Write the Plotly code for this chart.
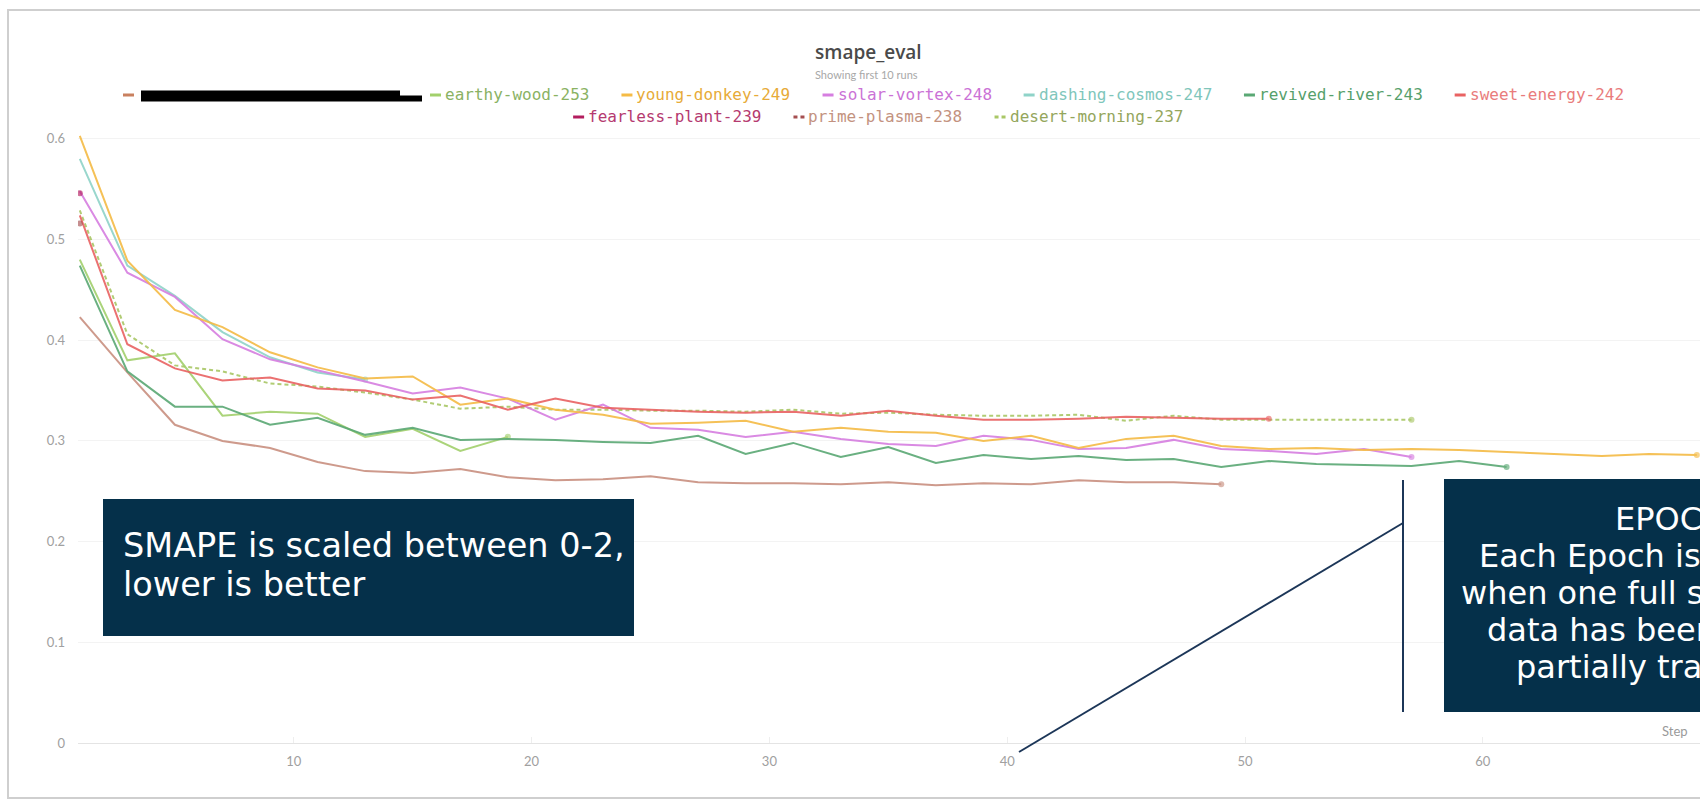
import plotly.graph_objects as go

# ---------------- data ----------------
run_names = ["(redacted)", "earthy-wood-253", "young-donkey-249", "solar-vortex-248",
             "dashing-cosmos-247", "revived-river-243", "sweet-energy-242",
             "fearless-plant-239", "prime-plasma-238", "desert-morning-237"]

steps_redacted = list(range(1, 50, 2))
vals_redacted = [0.423, 0.368, 0.316, 0.300, 0.293, 0.279, 0.270, 0.268, 0.272, 0.264,
                 0.261, 0.262, 0.265, 0.259, 0.258, 0.258, 0.257, 0.259, 0.256, 0.258,
                 0.257, 0.261, 0.259, 0.259, 0.257]

steps_earthy = list(range(1, 20, 2))
vals_earthy = [0.480, 0.380, 0.387, 0.325, 0.329, 0.327, 0.304, 0.312, 0.290, 0.304]

steps_young = list(range(1, 70, 2))
vals_young = [0.603, 0.479, 0.430, 0.413, 0.388, 0.373, 0.362, 0.364, 0.336, 0.342,
              0.331, 0.326, 0.317, 0.318, 0.320, 0.309, 0.313, 0.309, 0.308, 0.300,
              0.305, 0.293, 0.302, 0.305, 0.295, 0.292, 0.293, 0.291, 0.292, 0.291,
              0.289, 0.287, 0.285, 0.287, 0.286]

steps_solar = list(range(1, 58, 2))
vals_solar = [0.548, 0.467, 0.443, 0.401, 0.381, 0.370, 0.359, 0.347, 0.353, 0.342,
              0.321, 0.336, 0.313, 0.311, 0.304, 0.309, 0.302, 0.297, 0.295, 0.305,
              0.301, 0.292, 0.293, 0.301, 0.292, 0.290, 0.287, 0.292, 0.284]

steps_dashing = list(range(1, 14, 2))
vals_dashing = [0.580, 0.474, 0.444, 0.408, 0.383, 0.368, 0.361]

steps_revived = list(range(1, 62, 2))
vals_revived = [0.474, 0.369, 0.334, 0.334, 0.316, 0.323, 0.306, 0.313, 0.301, 0.302,
                0.301, 0.299, 0.298, 0.305, 0.287, 0.298, 0.284, 0.294, 0.278, 0.286,
                0.282, 0.285, 0.281, 0.282, 0.274, 0.280, 0.277, 0.276, 0.275, 0.280,
                0.274]

steps_sweet = list(range(1, 52, 2))
vals_sweet = [0.524, 0.396, 0.372, 0.360, 0.363, 0.352, 0.350, 0.341, 0.345, 0.331,
              0.342, 0.333, 0.331, 0.329, 0.328, 0.329, 0.325, 0.330, 0.325, 0.321,
              0.321, 0.322, 0.324, 0.323, 0.322, 0.322]

steps_fearless = [1]
vals_fearless = [0.546]

steps_prime = [1]
vals_prime = [0.516]

steps_desert = list(range(1, 58, 2))
vals_desert = [0.529, 0.406, 0.375, 0.369, 0.357, 0.354, 0.348, 0.341, 0.332, 0.334,
               0.331, 0.331, 0.330, 0.330, 0.329, 0.331, 0.327, 0.328, 0.326, 0.325,
               0.325, 0.326, 0.320, 0.325, 0.321, 0.321, 0.321, 0.321, 0.321]

x_tick_vals = [10, 20, 30, 40, 50, 60]
y_tick_vals = [0, 0.1, 0.2, 0.3, 0.4, 0.5, 0.6]
y_tick_text = ["0", "0.1", "0.2", "0.3", "0.4", "0.5", "0.6"]

# ---------------- styling ----------------
line_colors = ["#c99080", "#a2d06c", "#f5bb45", "#d67ee0", "#8fd3c8", "#5aa874",
               "#e96262", "#b31d5e", "#a54f50", "#a9c766"]
text_colors = ["#c07a60", "#8ab263", "#e7ab38", "#cb72d6", "#80c6bb", "#56a06b",
               "#e97c7c", "#b53a70", "#c3927f", "#94a65c"]
dashed = [False, False, False, False, False, False, False, False, True, True]

W, H = 1700, 801
ML, MR, MT, MB = 78, 0, 120, 58
PW = W - ML - MR
PH = H - MT - MB
X_PER_PX = 1 / 23.78
Y_PER_PX = 1 / 1007.0


def px(x):
    return (x - ML) / PW


def py(y):
    return (H - MB - y) / PH


series = [
    (steps_redacted, vals_redacted),
    (steps_earthy, vals_earthy),
    (steps_young, vals_young),
    (steps_solar, vals_solar),
    (steps_dashing, vals_dashing),
    (steps_revived, vals_revived),
    (steps_sweet, vals_sweet),
    (steps_fearless, vals_fearless),
    (steps_prime, vals_prime),
    (steps_desert, vals_desert),
]

fig = go.Figure()
order = [9, 0, 1, 5, 4, 3, 2, 6, 7, 8]
for i in order:
    xs, ys = series[i]
    sizes = [0] * (len(xs) - 1) + [6]
    fig.add_trace(go.Scatter(
        x=xs, y=ys, name=run_names[i],
        mode="lines+markers" if len(xs) > 1 else "markers",
        line=dict(color=line_colors[i], width=2,
                  dash="4px,3px" if dashed[i] else "solid"),
        marker=dict(color=line_colors[i], size=sizes, line=dict(width=0)),
        opacity=0.9, showlegend=False,
    ))

shapes = []
annotations = []

# slide frame
shapes.append(dict(type="rect", xref="paper", yref="paper",
                   x0=px(8), x1=px(1760), y0=py(798), y1=py(10),
                   line=dict(color="#cfcfcf", width=2), fillcolor="rgba(0,0,0,0)",
                   layer="below"))

# title & subtitle
annotations.append(dict(text="smape_eval", xref="paper", yref="paper",
                        x=px(868), y=py(52), showarrow=False, xanchor="center",
                        yanchor="middle",
                        font=dict(family="Open Sans", size=19, color="#4a4a4a",
                                  weight=600)))
annotations.append(dict(text="Showing first 10 runs", xref="paper", yref="paper",
                        x=px(866), y=py(75), showarrow=False, xanchor="center",
                        yanchor="middle",
                        font=dict(family="Lato", size=11, color="#a8a8a8")))

# manual legend
CH = 9.63
DASH, DGAP, IGAP = 11, 4, 32
leg_font = dict(family="DejaVu Sans Mono", size=16)


def legend_item(idx, x, y, text_w):
    c = line_colors[idx] if idx != 0 else "#c9805f"
    if dashed[idx]:
        shapes.append(dict(type="line", xref="paper", yref="paper",
                           x0=px(x), x1=px(x + 4), y0=py(y), y1=py(y),
                           line=dict(color=c, width=3)))
        shapes.append(dict(type="line", xref="paper", yref="paper",
                           x0=px(x + 7), x1=px(x + 11), y0=py(y), y1=py(y),
                           line=dict(color=c, width=3)))
    else:
        shapes.append(dict(type="line", xref="paper", yref="paper",
                           x0=px(x), x1=px(x + DASH), y0=py(y), y1=py(y),
                           line=dict(color=c, width=3)))
    tx = x + DASH + DGAP
    if idx == 0:
        # redaction scribble over the run name
        for yy, x_end in ((y - 1.5, 400), (y + 3.5, 422)):
            shapes.append(dict(type="line", xref="paper", yref="paper",
                               x0=px(tx + 3), x1=px(x_end), y0=py(yy), y1=py(yy),
                               line=dict(color="#000000", width=6)))
    else:
        annotations.append(dict(text=run_names[idx], xref="paper", yref="paper",
                                x=px(tx - 2), y=py(y), showarrow=False,
                                xanchor="left", yanchor="middle",
                                font=dict(color=text_colors[idx], **leg_font)))
    return tx + text_w + IGAP


row1 = [0, 1, 2, 3, 4, 5, 6]
row2 = [7, 8, 9]
x = 123
for idx in row1:
    w = 260 if idx == 0 else len(run_names[idx]) * CH
    x = legend_item(idx, x, 95, w)

row2_w = sum(len(run_names[i]) * CH for i in row2) + 3 * (DASH + DGAP) + 2 * IGAP
x = 878 - row2_w / 2
for idx in row2:
    x = legend_item(idx, x, 117, len(run_names[idx]) * CH)

# "Step" axis label
annotations.append(dict(text="Step", xref="paper", yref="paper", x=px(1690), y=py(731),
                        showarrow=False, xanchor="right", yanchor="middle",
                        font=dict(family="Lato", size=13, color="#9a9a9a")))

# annotation boxes
BOX = "#05304a"
box_font = dict(family="DejaVu Sans", size=33.5, color="#ffffff")
epoch_font = dict(family="DejaVu Sans", size=32, color="#ffffff")
shapes.append(dict(type="rect", xref="paper", yref="paper",
                   x0=px(103), x1=px(634), y0=py(636), y1=py(499),
                   fillcolor=BOX, line=dict(width=0)))
for txt, yc in (("SMAPE is scaled between 0-2,", 545), ("lower is better", 584)):
    annotations.append(dict(text=txt, xref="paper", yref="paper", x=px(121), y=py(yc),
                            showarrow=False, xanchor="left", yanchor="middle",
                            font=box_font))

shapes.append(dict(type="rect", xref="paper", yref="paper",
                   x0=px(1444), x1=px(1800), y0=py(712), y1=py(479),
                   fillcolor=BOX, line=dict(width=0)))
epoch_lines = [("EPOCH", 1613, 519), ("Each Epoch is complete", 1477, 556),
               ("when one full set of training", 1459, 593),
               ("data has been fully or", 1485, 630), ("partially trained on", 1514, 667)]
for txt, xl, yc in epoch_lines:
    annotations.append(dict(text=txt, xref="paper", yref="paper", x=px(xl), y=py(yc),
                            showarrow=False, xanchor="left", yanchor="middle",
                            font=epoch_font))

# callout lines
CALL = "#1c3658"
shapes.append(dict(type="line", xref="paper", yref="paper",
                   x0=px(1403), x1=px(1403), y0=py(480), y1=py(712),
                   line=dict(color=CALL, width=2)))
shapes.append(dict(type="line", xref="paper", yref="paper",
                   x0=px(1403), x1=px(1019), y0=py(523), y1=py(752),
                   line=dict(color=CALL, width=2)))

x0 = 1 + (ML - 79.8) * X_PER_PX
x1 = x0 + PW * X_PER_PX
fig.update_layout(
    width=W, height=H,
    margin=dict(l=ML, r=MR, t=MT, b=MB, pad=0),
    paper_bgcolor="#ffffff", plot_bgcolor="#ffffff",
    showlegend=False,
    xaxis=dict(range=[x0, x1], tickvals=x_tick_vals, showgrid=False, zeroline=False,
               showline=True, linecolor="#e4e4e4", linewidth=1,
               ticks="inside", ticklen=6, tickcolor="#eeeeee",
               tickfont=dict(family="Lato", size=13, color="#a0a0a0"),
               ticklabelstandoff=6),
    yaxis=dict(range=[0, PH * Y_PER_PX], tickvals=y_tick_vals, ticktext=y_tick_text,
               showgrid=True, gridcolor="#f3f3f3", gridwidth=1, zeroline=False,
               showline=False, ticks="",
               tickfont=dict(family="Lato", size=13, color="#a0a0a0"),
               ticklabelstandoff=12),
    shapes=shapes,
    annotations=annotations,
)

fig.write_html("out.html")
